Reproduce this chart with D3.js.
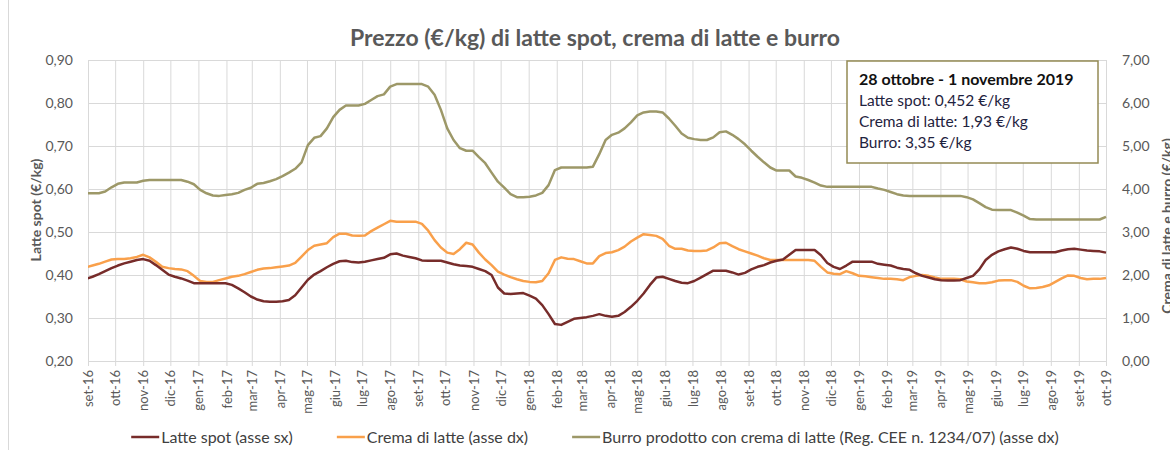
<!DOCTYPE html>
<html>
<head>
<meta charset="utf-8">
<script src="https://cdn.jsdelivr.net/npm/d3@7"></script>
<style>
  body { margin: 0; background: #fff; }
  svg { display: block; font-family: Lato, "Open Sans", sans-serif; }
</style>
</head>
<body>
<div id="chart"></div>
<script>
// etichette dei mesi sull'asse x
const monthLabels = ['set-16', 'ott-16', 'nov-16', 'dic-16', 'gen-17', 'feb-17', 'mar-17', 'apr-17', 'mag-17', 'giu-17',
  'lug-17', 'ago-17', 'set-17', 'ott-17', 'nov-17', 'dic-17', 'gen-18', 'feb-18', 'mar-18', 'apr-18',
  'mag-18', 'giu-18', 'lug-18', 'ago-18', 'set-18', 'ott-18', 'nov-18', 'dic-18', 'gen-19', 'feb-19',
  'mar-19', 'apr-19', 'mag-19', 'giu-19', 'lug-19', 'ago-19', 'set-19', 'ott-19'];

// prima settimana della serie (dati settimanali)
const firstWeek = new Date(2016, 7, 30);

// Latte spot (€/kg) - asse sx
const latteSpot = [
  0.391, 0.396, 0.402, 0.409, 0.416, 0.422, 0.427, 0.431, 0.435, 0.437,
  0.433, 0.423, 0.412, 0.401, 0.396, 0.392, 0.387, 0.381, 0.381, 0.381,
  0.381, 0.381, 0.381, 0.377, 0.369, 0.360, 0.350, 0.343, 0.339, 0.338,
  0.338, 0.339, 0.342, 0.353, 0.371, 0.389, 0.401, 0.409, 0.418, 0.426,
  0.432, 0.433, 0.430, 0.429, 0.431, 0.434, 0.437, 0.440, 0.448, 0.450,
  0.445, 0.442, 0.439, 0.434, 0.433, 0.433, 0.433, 0.429, 0.425, 0.422,
  0.421, 0.419, 0.414, 0.409, 0.400, 0.371, 0.357, 0.356, 0.357, 0.358,
  0.352, 0.345, 0.330, 0.309, 0.286, 0.284, 0.291, 0.298, 0.300, 0.302,
  0.305, 0.309, 0.305, 0.303, 0.305, 0.314, 0.326, 0.340, 0.357, 0.377,
  0.394, 0.396, 0.391, 0.386, 0.382, 0.381, 0.386, 0.394, 0.402, 0.410,
  0.410, 0.410, 0.406, 0.401, 0.405, 0.413, 0.419, 0.423, 0.429, 0.433,
  0.436, 0.447, 0.458, 0.458, 0.458, 0.458, 0.446, 0.428, 0.419, 0.414,
  0.422, 0.431, 0.431, 0.431, 0.431, 0.426, 0.424, 0.422, 0.417, 0.414,
  0.412, 0.404, 0.398, 0.394, 0.390, 0.388, 0.387, 0.387, 0.388, 0.393,
  0.398, 0.413, 0.435, 0.447, 0.455, 0.460, 0.464, 0.461, 0.456, 0.453,
  0.453, 0.453, 0.453, 0.453, 0.457, 0.460, 0.461, 0.459, 0.457, 0.456,
  0.455, 0.452
];

// Crema di latte (€/kg) - asse dx
const cremaLatte = [
  2.18, 2.22, 2.26, 2.31, 2.36, 2.37, 2.37, 2.39, 2.42, 2.47,
  2.41, 2.31, 2.19, 2.16, 2.14, 2.13, 2.09, 1.98, 1.86, 1.84,
  1.84, 1.88, 1.92, 1.96, 1.98, 2.02, 2.07, 2.12, 2.15, 2.16,
  2.18, 2.20, 2.22, 2.28, 2.43, 2.58, 2.68, 2.71, 2.74, 2.88,
  2.96, 2.96, 2.92, 2.91, 2.92, 3.02, 3.10, 3.18, 3.26, 3.24,
  3.24, 3.24, 3.24, 3.19, 3.03, 2.81, 2.64, 2.52, 2.49, 2.60,
  2.75, 2.71, 2.52, 2.36, 2.23, 2.08, 2.01, 1.95, 1.90, 1.86,
  1.84, 1.83, 1.86, 2.04, 2.35, 2.41, 2.38, 2.37, 2.32, 2.27,
  2.27, 2.44, 2.51, 2.53, 2.58, 2.66, 2.78, 2.87, 2.95, 2.93,
  2.91, 2.84, 2.68, 2.61, 2.61, 2.57, 2.56, 2.56, 2.57, 2.64,
  2.74, 2.75, 2.67, 2.60, 2.55, 2.50, 2.45, 2.39, 2.35, 2.35,
  2.35, 2.35, 2.35, 2.35, 2.35, 2.33, 2.19, 2.06, 2.03, 2.02,
  2.09, 2.04, 1.98, 1.97, 1.95, 1.93, 1.91, 1.91, 1.90, 1.88,
  1.95, 1.98, 2.00, 1.98, 1.94, 1.91, 1.91, 1.91, 1.90, 1.85,
  1.83, 1.81, 1.81, 1.83, 1.87, 1.88, 1.88, 1.84, 1.75, 1.69,
  1.70, 1.72, 1.76, 1.84, 1.92, 1.99, 1.98, 1.93, 1.90, 1.91,
  1.91, 1.93
];

// Burro prodotto con crema di latte (€/kg) - asse dx
const burro = [
  3.90, 3.90, 3.90, 3.94, 4.04, 4.12, 4.15, 4.15, 4.15, 4.19,
  4.21, 4.21, 4.21, 4.21, 4.21, 4.21, 4.17, 4.11, 3.98, 3.90,
  3.85, 3.84, 3.86, 3.88, 3.91, 3.98, 4.03, 4.12, 4.14, 4.18,
  4.23, 4.30, 4.38, 4.47, 4.62, 5.02, 5.19, 5.23, 5.41, 5.67,
  5.84, 5.94, 5.94, 5.94, 5.98, 6.07, 6.16, 6.20, 6.38, 6.44,
  6.44, 6.44, 6.44, 6.44, 6.38, 6.19, 5.84, 5.41, 5.14, 4.95,
  4.89, 4.89, 4.74, 4.60, 4.38, 4.17, 4.03, 3.88, 3.81, 3.81,
  3.82, 3.85, 3.91, 4.09, 4.44, 4.50, 4.50, 4.50, 4.50, 4.50,
  4.52, 4.81, 5.14, 5.26, 5.31, 5.41, 5.55, 5.71, 5.78, 5.80,
  5.80, 5.78, 5.64, 5.47, 5.29, 5.19, 5.16, 5.14, 5.14, 5.20,
  5.32, 5.34, 5.26, 5.16, 5.04, 4.89, 4.75, 4.62, 4.50, 4.43,
  4.43, 4.43, 4.29, 4.26, 4.21, 4.15, 4.08, 4.05, 4.05, 4.05,
  4.05, 4.05, 4.05, 4.05, 4.05, 4.01, 3.98, 3.93, 3.88, 3.85,
  3.84, 3.84, 3.84, 3.84, 3.84, 3.84, 3.84, 3.84, 3.84, 3.81,
  3.76, 3.67, 3.58, 3.52, 3.51, 3.51, 3.51, 3.45, 3.38, 3.30,
  3.29, 3.29, 3.29, 3.29, 3.29, 3.29, 3.29, 3.29, 3.29, 3.29,
  3.29, 3.35
];

const leftTicks = [0.2, 0.3, 0.4, 0.5, 0.6, 0.7, 0.8, 0.9];
const rightTicks = [0, 1, 2, 3, 4, 5, 6, 7];

const seriesNames = ['Latte spot (asse sx)', 'Crema di latte (asse dx)',
  'Burro prodotto con crema di latte (Reg. CEE n. 1234/07) (asse dx)'];
const boxTitle = '28 ottobre - 1 novembre 2019';
const boxLines = ['Latte spot: 0,452 €/kg', 'Crema di latte: 1,93 €/kg', 'Burro: 3,35 €/kg'];

const width = 1170;
const height = 450;
const plot = { left: 88, right: 1106, top: 60, bottom: 361 };
const colors = ['#772c2a', '#f9a04b', '#9d9868'];
const gridColor = '#d9d9d9';
const textColor = '#595959';

const it = d3.formatLocale({ decimal: ',', thousands: '.', grouping: [3], currency: ['€', ''] });
const fmt = it.format('.2f');

const weeks = latteSpot.map((_, i) => d3.timeDay.offset(firstWeek, 7 * i));
const monthDates = d3.timeMonth.range(new Date(2016, 8, 1), new Date(2019, 9, 2));

const x = d3.scaleTime()
  .domain([new Date(2016, 8, 1), new Date(2019, 9, 1)])
  .range([plot.left, plot.right]);
const yL = d3.scaleLinear().domain([0.2, 0.9]).range([plot.bottom, plot.top]);
const yR = d3.scaleLinear().domain([0, 7]).range([plot.bottom, plot.top]);

const svg = d3.select('#chart').append('svg')
  .attr('width', width)
  .attr('height', height);

// bordo dell'area del grafico
svg.append('line')
  .attr('x1', 8.5).attr('x2', 8.5)
  .attr('y1', 0).attr('y2', height)
  .attr('stroke', gridColor);

svg.append('text')
  .attr('x', 595)
  .attr('y', 46)
  .attr('text-anchor', 'middle')
  .attr('font-size', 23)
  .attr('font-weight', 'bold')
  .attr('fill', textColor)
  .text('Prezzo (€/kg) di latte spot, crema di latte e burro');

// griglia orizzontale
svg.append('g')
  .attr('transform', `translate(${plot.left},0)`)
  .call(d3.axisLeft(yL).tickValues(leftTicks).tickSize(-(plot.right - plot.left)).tickFormat(''))
  .call(g => g.select('.domain').remove())
  .call(g => g.selectAll('line').attr('stroke', gridColor));

// griglia verticale
svg.append('g')
  .attr('transform', `translate(0,${plot.bottom})`)
  .call(d3.axisBottom(x).tickValues(monthDates).tickSize(-(plot.bottom - plot.top)).tickFormat(''))
  .call(g => g.select('.domain').remove())
  .call(g => g.selectAll('line').attr('stroke', gridColor));

// asse x
const xAxis = svg.append('g')
  .attr('transform', `translate(0,${plot.bottom})`)
  .call(d3.axisBottom(x).tickValues(monthDates).tickSize(5).tickFormat((d, i) => monthLabels[i]));
xAxis.select('.domain').attr('stroke', gridColor);
xAxis.selectAll('line').attr('stroke', gridColor);
xAxis.selectAll('text')
  .attr('y', 0)
  .attr('x', -9)
  .attr('dy', '0.35em')
  .attr('transform', 'rotate(-90)')
  .attr('text-anchor', 'end')
  .attr('font-size', 13)
  .attr('font-family', 'Lato, sans-serif')
  .attr('fill', textColor);

// asse sinistro
svg.append('g')
  .attr('transform', `translate(${plot.left},0)`)
  .call(d3.axisLeft(yL).tickValues(leftTicks).tickSize(0).tickPadding(15).tickFormat(fmt))
  .call(g => g.select('.domain').remove())
  .call(g => g.selectAll('text')
    .attr('font-size', 14)
    .attr('font-family', 'Lato, sans-serif')
    .attr('fill', textColor));

// asse destro
svg.append('g')
  .attr('transform', `translate(${plot.right},0)`)
  .call(d3.axisRight(yR).tickValues(rightTicks).tickSize(0).tickPadding(16).tickFormat(fmt))
  .call(g => g.select('.domain').remove())
  .call(g => g.selectAll('text')
    .attr('font-size', 14)
    .attr('font-family', 'Lato, sans-serif')
    .attr('fill', textColor));

svg.append('text')
  .attr('transform', 'translate(41,210) rotate(-90)')
  .attr('text-anchor', 'middle')
  .attr('font-size', 14)
  .attr('font-weight', 'bold')
  .attr('fill', textColor)
  .text('Latte spot (€/kg)');

// titolo asse destro, tagliato dal bordo come nell'originale
svg.append('text')
  .attr('transform', 'translate(1172,226) rotate(-90)')
  .attr('text-anchor', 'middle')
  .attr('font-size', 14)
  .attr('font-weight', 'bold')
  .attr('fill', textColor)
  .text('Crema di latte e burro (€/kg)');

// linee
svg.append('clipPath').attr('id', 'clip')
  .append('rect')
  .attr('x', plot.left).attr('y', plot.top - 5)
  .attr('width', plot.right - plot.left + 3)
  .attr('height', plot.bottom - plot.top + 10);

const lineL = d3.line().x((d, i) => x(weeks[i])).y(d => yL(d));
const lineR = d3.line().x((d, i) => x(weeks[i])).y(d => yR(d));

const lines = svg.append('g').attr('clip-path', 'url(#clip)');
[[burro, lineR, colors[2]], [cremaLatte, lineR, colors[1]], [latteSpot, lineL, colors[0]]]
  .forEach(([values, gen, color]) => {
    lines.append('path')
      .datum(values)
      .attr('d', gen)
      .attr('fill', 'none')
      .attr('stroke', color)
      .attr('stroke-width', 2.5)
      .attr('stroke-linejoin', 'round');
  });

// riquadro con gli ultimi prezzi
const box = svg.append('g').attr('transform', 'translate(847,61)');
box.append('rect')
  .attr('width', 251)
  .attr('height', 102)
  .attr('fill', '#fff')
  .attr('stroke', '#948a54')
  .attr('stroke-width', 1.5);
box.append('text')
  .attr('x', 12).attr('y', 24)
  .attr('font-size', 16)
  .attr('font-weight', 'bold')
  .attr('fill', '#111')
  .text(boxTitle);
box.selectAll('.riga')
  .data(boxLines)
  .enter().append('text')
  .attr('x', 12)
  .attr('y', (d, i) => 45 + i * 21)
  .attr('font-size', 15.5)
  .attr('fill', '#1f2340')
  .text(d => d);

// legenda, centrata sotto il grafico
const legendGap = 44;
const legend = svg.append('g');
const items = legend.selectAll('g')
  .data(seriesNames)
  .enter().append('g');
items.append('line')
  .attr('x1', 0).attr('x2', 28)
  .attr('stroke', (d, i) => colors[i])
  .attr('stroke-width', 2.5);
items.append('text')
  .attr('x', 30)
  .attr('dy', '0.35em')
  .attr('font-size', 16)
  .attr('fill', '#404040')
  .text(d => d);

let pos = 0;
const offsets = [];
items.each(function () {
  offsets.push(pos);
  pos += 30 + this.querySelector('text').getComputedTextLength() + legendGap;
});
const legendWidth = pos - legendGap;
items.attr('transform', (d, i) => `translate(${595 - legendWidth / 2 + offsets[i]},437)`);
</script>
</body>
</html>
